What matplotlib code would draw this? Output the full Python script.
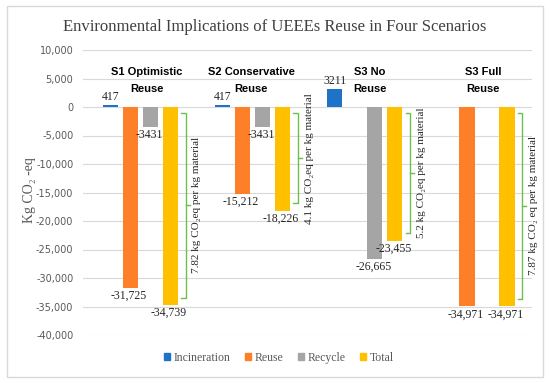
import matplotlib.pyplot as plt
from matplotlib.patches import Rectangle, Patch
from matplotlib.ticker import FuncFormatter

plt.rcParams["axes.unicode_minus"] = False

scenarios = ["S1 Optimistic\nReuse", "S2 Conservative\nReuse", "S3 No\nReuse", "S3 Full\nReuse"]
series = ["Incineration", "Reuse", "Recycle", "Total"]
incineration = [417, 417, 3211, 0]
reuse = [-31725, -15212, 0, -34971]
recycle = [-3431, -3431, -26665, 0]
total = [-34739, -18226, -23455, -34971]
savings = ["7.82 kg CO\u2082eq per kg material", "4.1 kg CO\u2082eq per kg material",
           "5.2 kg CO\u2082eq per kg material", "7.87 kg CO\u2082 eq per kg material"]

colors = ["#1f73c6", "#fd7f27", "#a5a5a5", "#ffc000"]
green = "#6cc04a"
serif = ["Liberation Serif", "DejaVu Serif"]
sans = ["Liberation Sans", "DejaVu Sans"]


def fmt(v):
    return f"{v:,}" if abs(v) >= 10000 else str(v)


fig = plt.figure(figsize=(5.5, 3.83), dpi=100)
fig.patches.append(Rectangle((7 / 550, 6 / 383), 536 / 550, 371 / 383, transform=fig.transFigure,
                             facecolor="none", edgecolor="#d9d9d9", linewidth=1.0))
ax = fig.add_axes([83 / 550, 1 - 335 / 383, 449 / 550, 285 / 383])

step = 0.178
width = 0.135
x = list(range(len(scenarios)))
for i, vals in enumerate([incineration, reuse, recycle, total]):
    pos = [g + (i - 1.5) * step + 0.01 for g in x]
    ax.bar(pos, vals, width=width, color=colors[i], zorder=2)
    for p, v in zip(pos, vals):
        if v == 0:
            continue
        if v > 0:
            ax.annotate(fmt(v), (p, v), xytext=(0, 1), textcoords="offset points",
                        ha="center", va="bottom", fontsize=8.5, family=serif, color="#262626")
        else:
            ax.annotate(fmt(v), (p, v), xytext=(-1, -1.5), textcoords="offset points",
                        ha="center", va="top", fontsize=8.5, family=serif, color="#262626")

# brackets next to the total bar
for g, t, s in zip(x, total, savings):
    bx = g + 0.415
    top = -1000
    bot = t + 1300
    mid = (top + bot) / 2
    ax.plot([bx - 0.04, bx, bx, bx - 0.04], [top, top, bot, bot], color=green, lw=1.0, zorder=3)
    ax.plot([bx, bx + 0.035], [mid, mid], color=green, lw=1.0, zorder=3)
    ax.text(bx + 0.1, mid, s, rotation=90, ha="center", va="center",
            fontsize=8, family=serif, color="#262626")

# scenario names, one text per line
label_dx = [0.07, 0.0, 0.055, 0.065]
for g, name, dx in zip(x, scenarios, label_dx):
    first, second = name.split("\n")
    ax.text(g + dx, 6150, first, ha="center", va="center", fontsize=8, fontweight="bold",
            family=sans, color="#000000")
    ax.text(g + dx, 3150, second, ha="center", va="center", fontsize=8, fontweight="bold",
            family=sans, color="#000000")

ax.set_xlim(-0.5, 3.5)
ax.set_ylim(-40000, 10000)
ax.set_yticks(range(-40000, 10001, 5000))
ax.yaxis.set_major_formatter(FuncFormatter(lambda v, _: f"{v:,.0f}"))
ax.set_xticks([])
ax.grid(axis="y", color="#d9d9d9", lw=0.8, zorder=0)
ax.tick_params(axis="y", length=0, pad=7, labelsize=7, labelcolor="#595959")
for sp in ax.spines.values():
    sp.set_visible(False)

fig.text(30 / 550, 1 - 190 / 383, "Kg CO\u2082 -eq", rotation=90, ha="center", va="center",
         fontsize=10, family=serif, color="#595959")
fig.text(0.5, 1 - 27 / 383, "Environmental Implications of UEEEs Reuse in Four Scenarios",
         ha="center", va="center", fontsize=12, family=serif, color="#404040")

handles = [Patch(color=c) for c in colors]
fig.legend(handles, series, loc="center", bbox_to_anchor=(0.507, 1 - 358 / 383), ncol=4,
           frameon=False, handlelength=0.5, handleheight=0.5, handletextpad=0.3,
           columnspacing=1.25, prop={"family": serif, "size": 8.5}, labelcolor="#595959")

fig.savefig("out.png", dpi=100)
